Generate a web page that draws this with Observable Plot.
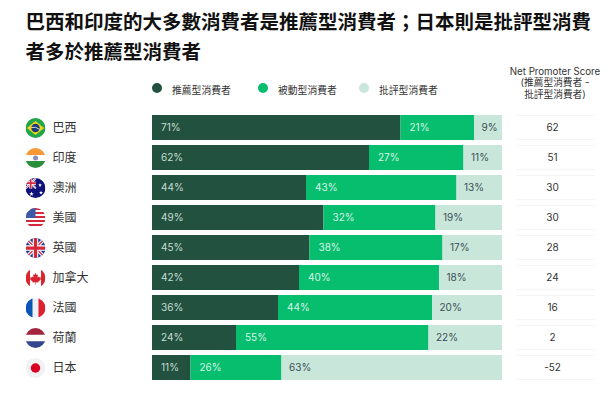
<!DOCTYPE html>
<html><head><meta charset="utf-8">
<script src="https://cdn.jsdelivr.net/npm/d3@7"></script>
<script src="https://cdn.jsdelivr.net/npm/@observablehq/plot@0.6"></script>
<style>
html,body{margin:0;padding:0;background:#fff;width:609px;height:400px;overflow:hidden}
body{position:relative;font-family:Inter,"Noto Sans CJK TC",sans-serif;color:#1a1a1a}
#head{position:relative;height:105px}
#title{position:absolute;left:25.500px;top:6px;font:700 19.500px/30px "Noto Sans CJK TC",sans-serif;color:#111;white-space:nowrap}
.lg{position:absolute;top:83px;font:400 9.8px/14px "Noto Sans CJK TC",sans-serif;color:#333;white-space:nowrap}
.dot{position:absolute;top:83px;width:10px;height:10px;border-radius:50%}
#nps{position:absolute;left:495px;top:65.500px;width:120px;text-align:center;font:400 9.7px/11.600px Inter,"Noto Sans CJK TC",sans-serif;color:#333}
svg{display:block}
</style></head><body>
<div id="head"></div><div id="chart"></div>
<script>
const titleLines = ["巴西和印度的大多數消費者是推薦型消費者；日本則是批評型消費","者多於推薦型消費者"];
const countries = ["巴西","印度","澳洲","美國","英國","加拿大","法國","荷蘭","日本"];
const seriesNames = ["推薦型消費者","被動型消費者","批評型消費者"];
const seriesColors = ["#22523f","#07bd6e","#c9e6da"];
const labelColors = ["#c5dcd2","#d5f5e6","#3a4f55"];
const promoters = [71,62,44,49,45,42,36,24,11];
const passives = [21,27,43,32,38,40,44,55,26];
const detractors = [9,11,13,19,17,18,20,22,63];
const nps = [62,51,30,30,28,24,16,2,-52];
const npsHeader = ["Net Promoter Score","(推薦型消費者 -","批評型消費者)"];
const legendDotX = [157,263,364];
const legendTextX = [172,278,379];

const svgFlag = body => "data:image/svg+xml;utf8," + encodeURIComponent(`<svg xmlns="http://www.w3.org/2000/svg" viewBox="0 0 40 40">${body}</svg>`);
const union = `<rect width="40" height="40" fill="#1f3c8c"/><path d="M0 0L40 40M40 0L0 40" stroke="#fff" stroke-width="7"/><path d="M0 0L40 40M40 0L0 40" stroke="#d5263a" stroke-width="2.5"/><path d="M20 0V40M0 20H40" stroke="#fff" stroke-width="11"/><path d="M20 0V40M0 20H40" stroke="#d5263a" stroke-width="6.5"/>`;
const flags = [
 svgFlag(`<rect width="40" height="40" fill="#1fa64a"/><path d="M20 6L37 20L20 34L3 20Z" fill="#f7d417"/><circle cx="20" cy="20" r="8.5" fill="#1b3a7a"/><path d="M11.5 19Q20 16 28.5 23" stroke="#fff" stroke-width="1.6" fill="none"/>`),
 svgFlag(`<rect width="40" height="40" fill="#fff"/><rect width="40" height="14" fill="#f79a35"/><rect y="26" width="40" height="14" fill="#2a8f3a"/><circle cx="20" cy="20" r="5" fill="#8a8fbf"/>`),
 svgFlag(`<rect width="40" height="40" fill="#10107a"/><g transform="scale(.52)">${union}</g><path d="M29 10l1 3h3l-2.500 2 1 3-2.500-2-2.500 2 1-3-2.500-2h3zM31 25l1 3h3l-2.500 2 1 3-2.500-2-2.500 2 1-3-2.500-2h3zM12 27l1.200 3.500h3.500l-3 2.200 1.200 3.500-2.900-2.200-2.900 2.200 1.200-3.500-3-2.200h3.500z" fill="#fff"/>`),
 svgFlag(`<rect width="40" height="40" fill="#fff"/><g fill="#d5283c"><rect width="40" height="4"/><rect y="8" width="40" height="4"/><rect y="16" width="40" height="4"/><rect y="24" width="40" height="4"/><rect y="32" width="40" height="4"/></g><rect width="20" height="20" fill="#3c5aa8"/>`),
 svgFlag(union),
 svgFlag(`<rect width="40" height="40" fill="#fff"/><rect width="9" height="40" fill="#d9252f"/><rect x="31" width="9" height="40" fill="#d9252f"/><path d="M20 10l2.500 4 2.500-1-1 6 3-2 1 2 3-.5-1 3.500 1 1-5 4-.5 2-5-.5V33h-1v-4.500l-5 .5-.5-2-5-4 1-1-1-3.500 3 .5 1-2 3 2-1-6 2.500 1z" fill="#d9252f"/>`),
 svgFlag(`<rect width="40" height="40" fill="#eef1f7"/><rect width="14" height="40" fill="#0a55b5"/><rect x="26" width="14" height="40" fill="#dd1f2e"/>`),
 svgFlag(`<rect width="40" height="40" fill="#fff"/><rect width="40" height="13.500" fill="#a3243b"/><rect y="26.500" width="40" height="13.500" fill="#35478c"/>`),
 svgFlag(`<rect width="40" height="40" fill="#f2f2f5"/><circle cx="20" cy="20" r="9.500" fill="#d8001e"/>`)
];

document.getElementById("head").innerHTML =
  `<div id="title">${titleLines.join("<br>")}</div>` +
  seriesNames.map((s,i)=>`<span class="dot" style="left:${legendDotX[i]-5}px;background:${seriesColors[i]}"></span><span class="lg" style="left:${legendTextX[i]}px">${s}</span>`).join("") +
  `<div id="nps">${npsHeader.join("<br>")}</div>`;

const values = [promoters,passives,detractors];
const rows = values.flatMap((vals,s)=>vals.map((v,i)=>({country:countries[i],series:seriesNames[s],value:v,label:v+"%"})));
const table = countries.map((c,i)=>({country:c,nps:nps[i],flag:flags[i]}));

const plot = Plot.plot({
  width:609,height:295,
  marginLeft:152,marginRight:107,marginTop:0,marginBottom:0,
  style:{fontFamily:'Inter,"Noto Sans CJK TC",sans-serif',background:"transparent",overflow:"visible"},
  x:{domain:[0,100],axis:null},
  y:{domain:countries,range:[5,280],axis:null,padding:0.165,align:0.5},
  color:{domain:seriesNames,range:seriesColors},
  marks:[
    Plot.barX(rows,{x:"value",y:"country",z:"series",fill:"series",clip:"frame"}),
    ...seriesNames.map((s,i)=>Plot.text(rows.filter(d=>d.series===s),{
      x:d=>rows.filter(r=>r.country===d.country&&seriesNames.indexOf(r.series)<i).reduce((a,r)=>a+r.value,0),
      y:"country",text:"label",textAnchor:"start",dx:i===2?7:8.5,fill:labelColors[i],fontSize:10})),
    Plot.image(table,{y:"country",src:"flag",r:10,frameAnchor:"left",dx:-117}),
    Plot.text(table,{y:"country",text:"country",frameAnchor:"left",textAnchor:"start",dx:-100,fontSize:12,fill:"#333",fontFamily:'"Noto Sans CJK TC",sans-serif'}),
    Plot.barX(table,{y:"country",x1:()=>104,x2:()=>126.5,fill:"#f3f3f1",insetBottom:24.2}),
    Plot.barX(table,{y:"country",x1:()=>104,x2:()=>126.5,fill:"#f3f3f1",insetTop:24.2}),
    Plot.text(table,{y:"country",x:()=>114.3,text:d=>String(d.nps),fontSize:10,fill:"#333"})
  ]
});
document.getElementById("chart").append(plot);
</script></body></html>
